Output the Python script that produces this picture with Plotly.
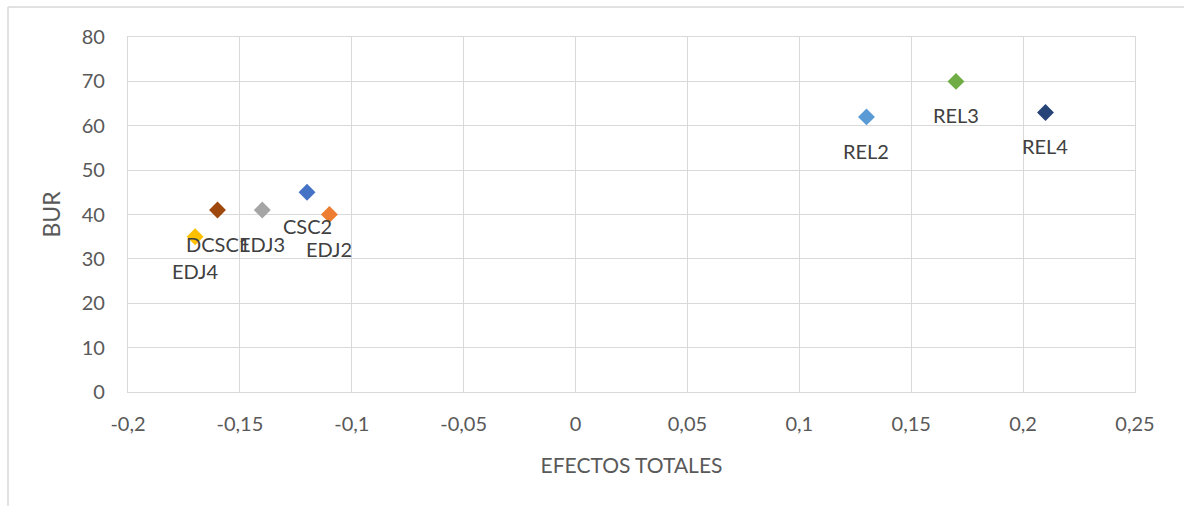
import plotly.graph_objects as go

# Series: one point per indicator
names = ["EDJ4", "DCSC1", "EDJ3", "CSC2", "EDJ2", "REL2", "REL3", "REL4"]
efectos = [-0.17, -0.16, -0.14, -0.12, -0.11, 0.13, 0.17, 0.21]
bur = [35, 41, 41, 45, 40, 62, 70, 63]
colors = ["#FFC000", "#9E480E", "#A5A5A5", "#4472C4", "#ED7D31",
          "#5B9BD5", "#70AD47", "#264478"]

x_ticks = [-0.2, -0.15, -0.1, -0.05, 0, 0.05, 0.1, 0.15, 0.2, 0.25]
x_ticktext = ["-0,2", "-0,15", "-0,1", "-0,05", "0", "0,05", "0,1", "0,15", "0,2", "0,25"]
y_ticks = [0, 10, 20, 30, 40, 50, 60, 70, 80]

FONT = "Lato, Calibri, Carlito, sans-serif"
W, H = 1184, 506
L, R, T, B = 128, 49, 37, 114

fig = go.Figure()
for n, xv, yv, c in zip(names, efectos, bur, colors):
    fig.add_trace(go.Scatter(
        x=[xv], y=[yv], mode="markers", name=n,
        marker=dict(symbol="diamond", size=13, color=c, line=dict(width=0)),
        showlegend=False, cliponaxis=False,
    ))
    fig.add_annotation(
        x=xv, y=yv, text=n, showarrow=False, yshift=-34,
        font=dict(family=FONT, size=20, color="#404040"),
    )

grid = "#D9D9D9"
fig.update_xaxes(
    range=[-0.2, 0.25], tickvals=x_ticks, ticktext=x_ticktext,
    showgrid=True, gridcolor=grid, gridwidth=1.3,
    showline=True, linecolor=grid, linewidth=1.3, mirror=True,
    zeroline=False, ticks="", ticklabelstandoff=14,
    tickfont=dict(family=FONT, size=20, color="#595959"),
    title=dict(text="EFECTOS TOTALES", standoff=24,
               font=dict(family=FONT, size=21, color="#595959")),
)
fig.update_yaxes(
    range=[0, 80], tickvals=y_ticks,
    showgrid=True, gridcolor=grid, gridwidth=1.3,
    showline=True, linecolor=grid, linewidth=1.3, mirror=True,
    zeroline=False, ticks="", ticklabelstandoff=18,
    tickfont=dict(family=FONT, size=20, color="#595959"),
    title=dict(text="BUR", standoff=14,
               font=dict(family=FONT, size=23, color="#595959")),
)

# Chart-area frame (top and left edges)
def px_x(p):
    return (p - L) / (W - L - R)

def px_y(p):
    return (H - B - p) / (H - T - B)

fig.add_shape(type="line", xref="paper", yref="paper",
              x0=px_x(8), x1=px_x(W + 5), y0=px_y(7), y1=px_y(7),
              line=dict(color="#D9D9D9", width=1.5))
fig.add_shape(type="line", xref="paper", yref="paper",
              x0=px_x(8), x1=px_x(8), y0=px_y(7), y1=px_y(H + 5),
              line=dict(color="#D9D9D9", width=1.5))

fig.update_layout(
    width=W, height=H,
    margin=dict(l=L, r=R, t=T, b=B),
    paper_bgcolor="white", plot_bgcolor="white",
    font=dict(family=FONT),
)

fig.write_html("out.html")
